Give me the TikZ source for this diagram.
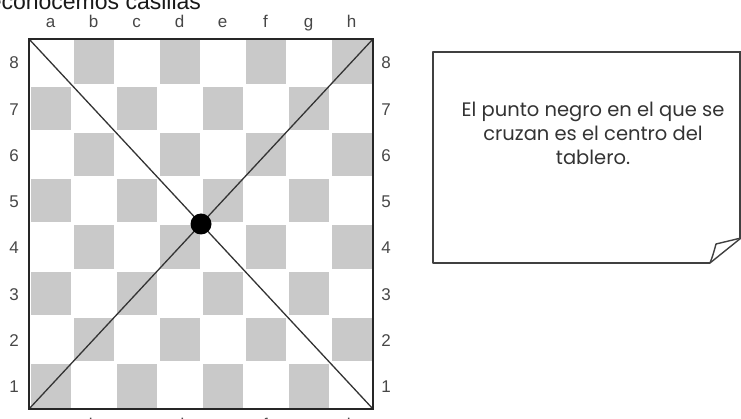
\documentclass[tikz,border=0pt]{standalone}
\usepackage{fontspec}
\setmainfont{Liberation Sans}
\newfontfamily\notefont{Poppins}
\begin{document}
\begin{tikzpicture}[x=1pt,y=-1pt,
  boardline/.style={draw=black!85,line width=2pt},
  diagline/.style={draw=black!80,line width=1.3pt},
  darksq/.style={fill=black!21},
  coordlab/.style={font=\fontsize{17}{17}\selectfont,text=black!72,inner sep=0pt},
  notebox/.style={draw=black!75,line width=1.4pt},
  notetext/.style={font=\notefont\fontsize{19.5}{24}\selectfont,text=black!80,align=center,inner sep=0pt}]
\useasboundingbox (0,0) rectangle (741,419);
\clip (0,0) rectangle (741,419);
% title (cut at top)
\node[anchor=base west,inner sep=0pt,font=\fontsize{23}{23}\selectfont,text=black!90] (title) at (-28,10) {Reconocemos casillas};
% squares
\foreach \f in {0,...,7}{
  \foreach \r in {0,...,7}{
    \pgfmathtruncatemacro{\sqpar}{mod(\f+\r,2)}
    \ifnum\sqpar=0
      \fill[darksq] ({29+43*\f+1.5},{409-46.25*(\r+1)+1.5}) rectangle ({29+43*(\f+1)-1.5},{409-46.25*\r-1.5});
    \fi
  }
}
% board corners
\coordinate (tl) at (29,39);
\coordinate (tr) at (373,39);
\coordinate (bl) at (29,409);
\coordinate (br) at (373,409);
\draw[diagline] (tl) -- (br);
\draw[diagline] (bl) -- (tr);
\draw[boardline] (tl) rectangle (br);
\node[circle,fill=black,inner sep=0pt,minimum size=21pt] (centre) at (201,224) {};
% file labels
\foreach \l [count=\i from 0] in {a,b,c,d,e,f,g,h}{
  \node[coordlab,anchor=base] (top\l) at ({29+43*(\i+0.5)},28) {\l};
  \node[coordlab,anchor=base] (bot\l) at ({29+43*(\i+0.5)},430) {\l};
}
% rank labels
\foreach \n in {1,...,8}{
  \node[coordlab] (left\n) at (14,{409-46.25*(\n-0.5)+1}) {\n};
  \node[coordlab] (right\n) at (386,{409-46.25*(\n-0.5)+1}) {\n};
}
% note box with curled corner
\draw[notebox,line join=round] (710,263) -- (433,263) -- (433,52) -- (741,52);
\draw[notebox] (740,52) -- (740,238);
\draw[notebox,line join=round] (710,263) -- (741,238);
\draw[notebox,line join=round] (710,263) .. controls (713,255) .. (716,244) -- (741,238);
\node[notetext] (note) at (593,133) {El punto negro en el que se\\cruzan es el centro del\\tablero.};
\end{tikzpicture}
\end{document}
